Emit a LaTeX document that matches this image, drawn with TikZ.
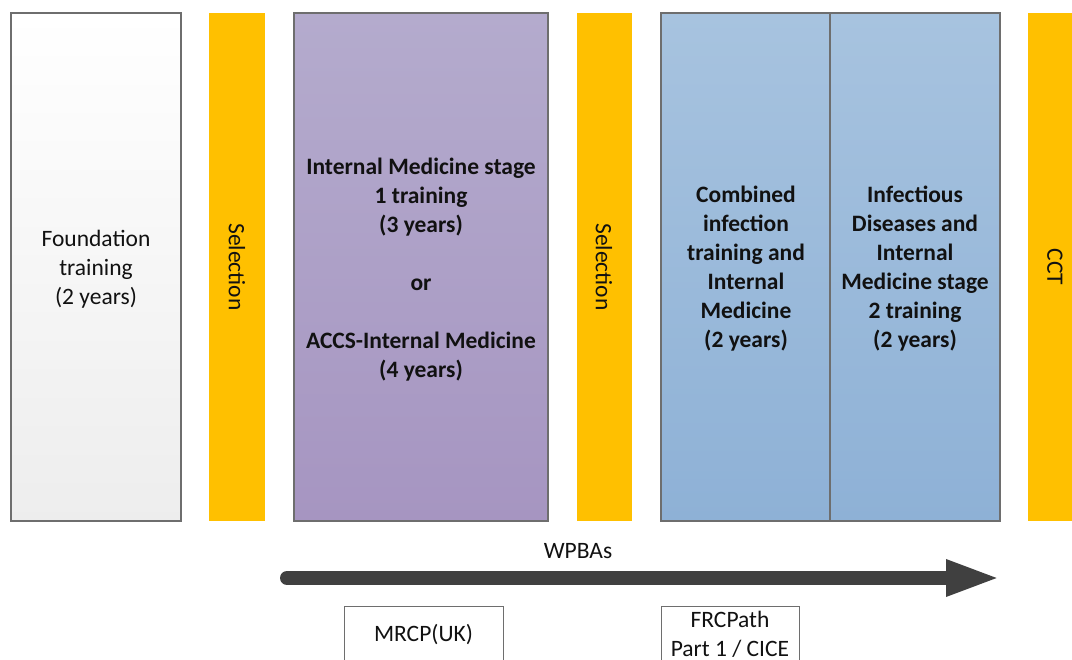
\documentclass[tikz,border=0pt]{standalone}
\usepackage{fontspec}
\setmainfont{Carlito}
\usetikzlibrary{arrows.meta}
\definecolor{bartxt}{HTML}{111111}
\definecolor{gold}{HTML}{FFC000}
\definecolor{edge}{HTML}{6E6E6E}
\definecolor{arrowgrey}{HTML}{404040}
\definecolor{purtop}{HTML}{B4ABCD}
\definecolor{purbot}{HTML}{A695C1}
\definecolor{blutop}{HTML}{A7C3DF}
\definecolor{blubot}{HTML}{8EB1D6}
\tikzset{
  lbl/.style={align=center, text=bartxt, font=\fontsize{23.5}{29}\selectfont},
  blbl/.style={lbl, font=\fontsize{23.5}{29}\selectfont\bfseries},
  bar/.style={fill=gold, draw=none},
  stage/.style={draw=edge, line width=1.2pt},
  exam/.style={draw=edge, line width=1pt, fill=white},
}
\begin{document}
\begin{tikzpicture}[x=1pt,y=-1pt]
\useasboundingbox (0,0) rectangle (1072,660);
\clip (0,0) rectangle (1072,660);
\fill[white] (0,0) rectangle (1072,660);
% foundation
\shade[top color=white, bottom color=black!7, stage] (11,13) rectangle (181,521);
\node[lbl] (found) at (96,269) {Foundation\\training\\(2 years)};
% selection 1
\fill[bar] (209,13) rectangle (265,521);
\node[lbl, rotate=-90] (sel1) at (237,267) {Selection};
% purple
\shade[top color=purtop, bottom color=purbot, stage] (294,13) rectangle (548,521);
\node[blbl] (im1) at (421,270) {Internal Medicine stage\\1 training\\(3 years)\\[29pt]or\\[29pt]ACCS-Internal Medicine\\(4 years)};
% selection 2
\fill[bar] (577,13) rectangle (632,521);
\node[lbl, rotate=-90] (sel2) at (604,267) {Selection};
% blue
\shade[top color=blutop, bottom color=blubot, stage] (661,13) rectangle (1000,521);
\draw[stage] (830,13) -- (830,521);
\node[blbl] (cit) at (746,269) {Combined\\infection\\training and\\Internal\\Medicine\\(2 years)};
\node[blbl] (id) at (915,269) {Infectious\\Diseases and\\Internal\\Medicine stage\\2 training\\(2 years)};
% CCT
\fill[bar] (1028,13) rectangle (1090,521);
\node[lbl, rotate=-90] (cct) at (1055,267) {CCT};
% arrow
\coordinate (as) at (287,578);
\coordinate (ae) at (1001,578);
\draw[arrowgrey, line width=14pt, line cap=round, -{Triangle[length=55pt,width=33pt]}] (as) -- (ae);
\node[lbl] (wpba) at (578,551) {WPBAs};
% exams
\draw[exam] (344,606) rectangle (503,680);
\node[lbl] (mrcp) at (423.5,635) {MRCP(UK)};
\draw[exam] (661,606) rectangle (799,680);
\node[lbl] (frc) at (730,634) {FRCPath\\Part 1 / CICE};
\end{tikzpicture}
\end{document}
